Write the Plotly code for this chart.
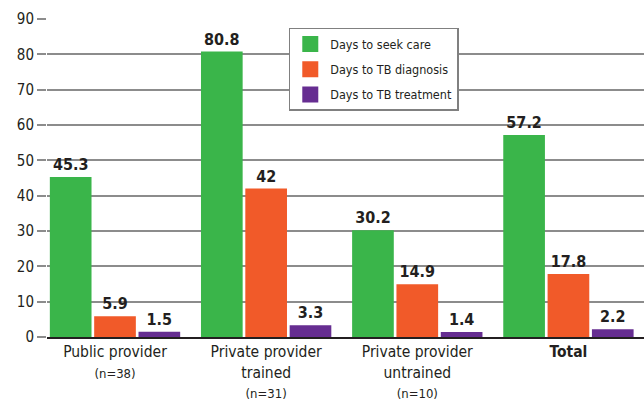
import plotly.graph_objects as go

categories = [
    "Public provider<br><span style='font-size:13px'>(n=38)</span>",
    "Private provider<br>trained<br><span style='font-size:13px'>(n=31)</span>",
    "Private provider<br>untrained<br><span style='font-size:13px'>(n=10)</span>",
    "<b>Total</b>",
]
series_names = ["Days to seek care", "Days to TB diagnosis", "Days to TB treatment"]
seek_care = [45.3, 80.8, 30.2, 57.2]
tb_diagnosis = [5.9, 42, 14.9, 17.8]
tb_treatment = [1.5, 3.3, 1.4, 2.2]
value_labels = [
    ["45.3", "80.8", "30.2", "57.2"],
    ["5.9", "42", "14.9", "17.8"],
    ["1.5", "3.3", "1.4", "2.2"],
]
y_ticks = [0, 10, 20, 30, 40, 50, 60, 70, 80, 90]

colors = ["#3AB54A", "#F15A29", "#662D91"]
FONT = "DejaVu Sans Condensed, Liberation Sans Narrow, sans-serif"

fig = go.Figure()
for name, vals, labels, col in zip(series_names, [seek_care, tb_diagnosis, tb_treatment], value_labels, colors):
    fig.add_trace(go.Bar(
        x=categories, y=vals, name=name, marker_color=col, marker_line_width=0,
        text=labels, textposition="outside", cliponaxis=False,
        textfont=dict(family=FONT, size=16, color="#231f20", weight="bold"),
        showlegend=False,
    ))
# legend swatches (larger square icons)
for name, col in zip(series_names, colors):
    fig.add_trace(go.Scatter(
        x=[None], y=[None], mode="markers", name=name, legendgroup=name,
        marker=dict(symbol="square", size=18, color=col),
        showlegend=True,
    ))

fig.update_layout(
    width=644, height=408,
    margin=dict(l=47, r=0, t=19, b=71),
    paper_bgcolor="white", plot_bgcolor="white",
    font=dict(family=FONT, size=15, color="#231f20"),
    barmode="group", bargap=0.12, bargroupgap=0.06,
    showlegend=True,
    legend=dict(
        x=0.405, y=0.972, xanchor="left", yanchor="top",
        bgcolor="white", bordercolor="#808080", borderwidth=1.5,
        font=dict(family=FONT, size=12.5, color="#231f20"),
        itemsizing="trace", tracegroupgap=6,
    ),
)
fig.update_xaxes(
    range=[-0.45, 3.5], showgrid=False,
    showline=True, linecolor="#231f20", linewidth=1.5,
    ticks="", tickfont=dict(family=FONT, size=15.5, color="#231f20"),
)
fig.update_yaxes(
    range=[0, 90], tickvals=y_ticks, showgrid=True,
    gridcolor="#8c8c8c", gridwidth=1.5, zeroline=False,
    ticks="outside", ticklen=9, tickcolor="#8c8c8c", tickwidth=1.5,
    showline=False, tickfont=dict(family=FONT, size=15, color="#231f20"),
)

fig.write_html("out.html", config={"displayModeBar": False},
               post_script="document.body.style.margin='0';")
